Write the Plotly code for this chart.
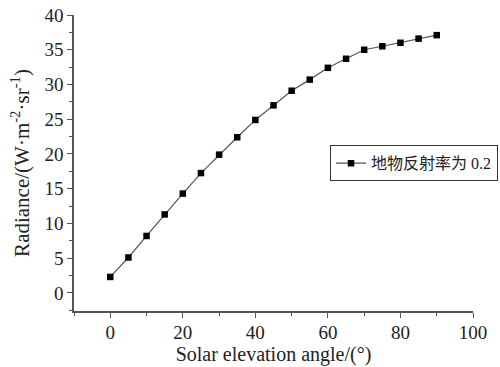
import plotly.graph_objects as go

angles = [0, 5, 10, 15, 20, 25, 30, 35, 40, 45, 50, 55, 60, 65, 70, 75, 80, 85, 90]
radiance = [2.3, 5.1, 8.2, 11.3, 14.3, 17.25, 19.9, 22.4, 24.9, 27.0, 29.1, 30.7,
            32.4, 33.7, 35.0, 35.5, 36.0, 36.6, 37.1]
series_name = "地物反射率为 0.2"
x_title = "Solar elevation angle/(°)"
y_title = "Radiance/(W·m<sup>-2</sup>·sr<sup>-1</sup>)"

font_fam = "'Liberation Serif', 'Times New Roman', 'Noto Sans CJK SC', serif"
txt_color = "#222222"
ax_color = "#555555"

fig = go.Figure()
fig.add_trace(go.Scatter(
    x=angles, y=radiance, mode="lines+markers", name=series_name,
    line=dict(color="#555555", width=1.2),
    marker=dict(symbol="square", size=6.5, color="black"),
))

axis_common = dict(
    showgrid=False, zeroline=False, showline=True, linecolor=ax_color, linewidth=1.5,
    ticks="outside", ticklen=5, tickcolor=ax_color, tickwidth=1.2,
    tickfont=dict(family=font_fam, size=19, color=txt_color),
    mirror=False, automargin=False,
)

fig.update_xaxes(
    range=[-10, 100], tickvals=[0, 20, 40, 60, 80, 100],
    minor=dict(dtick=10, tick0=0, ticks="outside", ticklen=3, tickcolor=ax_color),
    ticklabelstandoff=-2,
    title=dict(text=x_title, font=dict(family=font_fam, size=20, color=txt_color), standoff=0),
    **axis_common,
)
fig.update_yaxes(
    range=[-2.6, 40], tickvals=[0, 5, 10, 15, 20, 25, 30, 35, 40],
    minor=dict(dtick=2.5, tick0=0, ticks="outside", ticklen=3, tickcolor=ax_color),
    title=dict(text=y_title, font=dict(family=font_fam, size=21, color=txt_color), standoff=9),
    **axis_common,
)

fig.update_layout(
    width=500, height=367,
    margin=dict(l=74, r=27, t=15, b=56, autoexpand=False),
    paper_bgcolor="white", plot_bgcolor="white",
    showlegend=True,
    legend=dict(
        xref="container", yref="container",
        x=0.996, y=0.555, xanchor="right", yanchor="middle",
        bordercolor="#333333", borderwidth=1, bgcolor="white",
        font=dict(family=font_fam, size=16, color=txt_color),
        itemwidth=30, tracegroupgap=0,
    ),
)

# remove the browser's default 8px body margin so the figure fills the window
fig.write_html(
    "out.html",
    config={"displayModeBar": False},
    post_script="document.body.style.margin='0';document.body.style.overflow='hidden';",
)
